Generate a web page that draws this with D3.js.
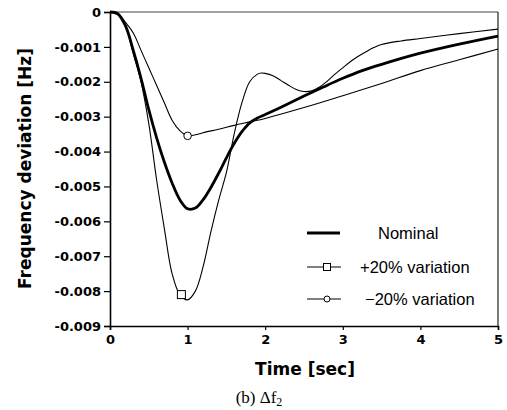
<!DOCTYPE html>
<html><head><meta charset="utf-8">
<script src="https://cdn.jsdelivr.net/npm/d3@7"></script>
<style>
html,body{margin:0;padding:0;background:#fff;}
svg{display:block;}
</style></head>
<body>
<svg id="chart" width="507" height="410"></svg>
<script>
// ---- data ----
const timeNominal = [0,0.1,0.2,0.3,0.4,0.5,0.6,0.7,0.8,0.9,1.0,1.1,1.2,1.3,1.4,1.5,1.6,1.7,1.8,1.9,2.0,2.25,2.5,2.75,3.0,3.25,3.5,4.0,4.5,5.0];
const nominal = [0,-0.00005,-0.0004,-0.0011,-0.0019,-0.0028,-0.0036,-0.0043,-0.0049,-0.00538,-0.00564,-0.00562,-0.00538,-0.00503,-0.00462,-0.00418,-0.00377,-0.00343,-0.00318,-0.00304,-0.00294,-0.00268,-0.00241,-0.00215,-0.0019,-0.00168,-0.0015,-0.00118,-0.00092,-0.00069];

const timePlus = [0,0.1,0.2,0.3,0.4,0.5,0.6,0.7,0.8,0.9,1.0,1.1,1.2,1.3,1.4,1.5,1.6,1.7,1.8,1.9,1.95,2.0,2.1,2.2,2.3,2.4,2.5,2.6,2.7,2.8,2.9,3.0,3.1,3.2,3.3,3.4,3.5,3.75,4.0,4.5,5.0];
const plus20 = [0,-0.00005,-0.0004,-0.0012,-0.0020,-0.0032,-0.0048,-0.0062,-0.0075,-0.0081,-0.00825,-0.0080,-0.0073,-0.0063,-0.0054,-0.0046,-0.0035,-0.0026,-0.0020,-0.00178,-0.00175,-0.00176,-0.00183,-0.00196,-0.0021,-0.00222,-0.00228,-0.00226,-0.00215,-0.00198,-0.00178,-0.0016,-0.00142,-0.00127,-0.00114,-0.00102,-0.00093,-0.00083,-0.00076,-0.00062,-0.00049];

const timeMinus = [0,0.1,0.2,0.3,0.4,0.5,0.6,0.7,0.8,0.9,1.0,1.1,1.2,1.4,1.6,1.8,2.0,2.5,3.0,3.5,4.0,4.5,5.0];
const minus20 = [0,-0.00005,-0.0003,-0.0006,-0.0011,-0.0016,-0.0021,-0.0026,-0.0031,-0.0034,-0.00355,-0.00352,-0.00346,-0.00336,-0.00325,-0.00315,-0.00305,-0.00274,-0.0024,-0.00205,-0.00168,-0.00137,-0.00106];

const plusMarker = [0.92, -0.0081];
const minusMarker = [1.0, -0.00355];

const xTicks = [0,1,2,3,4,5];
const yTicks = [0,-0.001,-0.002,-0.003,-0.004,-0.005,-0.006,-0.007,-0.008,-0.009];
const yTickLabels = ["0","-0.001","-0.002","-0.003","-0.004","-0.005","-0.006","-0.007","-0.008","-0.009"];
const legendLabels = ["Nominal","+20% variation","\u221220% variation"];

// ---- layout ----
const svg = d3.select("#chart");
const x = d3.scaleLinear().domain([0,5]).range([110,498]);
const y = d3.scaleLinear().domain([-0.009,0]).range([326,12]);

const tickFont = "'DejaVu Sans', sans-serif";

// frame top/right
svg.append("line").attr("x1",x(0)).attr("x2",x(5)).attr("y1",y(0)).attr("y2",y(0))
  .attr("stroke","#444").attr("stroke-width",1.2);
svg.append("line").attr("x1",x(5)).attr("x2",x(5)).attr("y1",y(0)).attr("y2",y(-0.009))
  .attr("stroke","#222").attr("stroke-width",1.2);

// axes
const xAxis = d3.axisBottom(x).tickValues(xTicks).tickFormat(d3.format("d")).tickSize(4).tickPadding(5);
const yAxis = d3.axisLeft(y).tickValues(yTicks).tickFormat((d,i)=>yTickLabels[i]).tickSize(6).tickPadding(3);

const gx = svg.append("g").attr("transform",`translate(0,${y(-0.009)})`).call(xAxis);
const gy = svg.append("g").attr("transform",`translate(${x(0)},0)`).call(yAxis);
[gx,gy].forEach(g=>{
  g.select(".domain").attr("stroke","#000").attr("stroke-width",1.6);
  g.selectAll(".tick line").attr("stroke","#000").attr("stroke-width",1.2);
  g.selectAll(".tick text").attr("font-family",tickFont).attr("font-weight","bold")
   .attr("font-size","13px").attr("fill","#000");
});

// curves
const line = d3.line().x(d=>x(d[0])).y(d=>y(d[1])).curve(d3.curveCatmullRom.alpha(0.5));
const zip = (t,v)=>t.map((d,i)=>[d,v[i]]);

svg.append("path").datum(zip(timeMinus,minus20)).attr("d",line)
  .attr("fill","none").attr("stroke","#000").attr("stroke-width",1.1);
svg.append("path").datum(zip(timePlus,plus20)).attr("d",line)
  .attr("fill","none").attr("stroke","#000").attr("stroke-width",1.1);
svg.append("path").datum(zip(timeNominal,nominal)).attr("d",line)
  .attr("fill","none").attr("stroke","#000").attr("stroke-width",2.8);

// markers
svg.append("rect").attr("x",x(plusMarker[0])-4).attr("y",y(plusMarker[1])-4)
  .attr("width",8).attr("height",8).attr("fill","#fff").attr("stroke","#000").attr("stroke-width",1);
svg.append("circle").attr("cx",x(minusMarker[0])).attr("cy",y(minusMarker[1])).attr("r",3.8)
  .attr("fill","#fff").attr("stroke","#000").attr("stroke-width",1);

// legend
const legY = [233,267,299];
const lg = svg.append("g");
lg.append("line").attr("x1",307).attr("x2",340).attr("y1",legY[0]).attr("y2",legY[0])
  .attr("stroke","#000").attr("stroke-width",2.8);
lg.append("line").attr("x1",307).attr("x2",341).attr("y1",legY[1]).attr("y2",legY[1])
  .attr("stroke","#000").attr("stroke-width",1);
lg.append("rect").attr("x",327-3.5).attr("y",legY[1]-3.5).attr("width",7).attr("height",7)
  .attr("fill","#fff").attr("stroke","#000").attr("stroke-width",1);
lg.append("line").attr("x1",307).attr("x2",341).attr("y1",legY[2]).attr("y2",legY[2])
  .attr("stroke","#000").attr("stroke-width",1);
lg.append("circle").attr("cx",327).attr("cy",legY[2]).attr("r",3)
  .attr("fill","#fff").attr("stroke","#000").attr("stroke-width",1);
const legX = [378,360,365];
legendLabels.forEach((t,i)=>{
  lg.append("text").attr("x",legX[i]).attr("y",legY[i]).attr("dy","0.36em")
    .attr("font-family","'Liberation Sans', Arial, sans-serif").attr("font-size","16.5px")
    .attr("fill","#000").text(t);
});

// axis titles
svg.append("text").attr("x",305).attr("y",375).attr("text-anchor","middle")
  .attr("font-family",tickFont).attr("font-weight","bold").attr("font-size","17px")
  .text("Time [sec]");
svg.append("text").attr("transform","translate(31,168.5) rotate(-90)").attr("text-anchor","middle")
  .attr("font-family",tickFont).attr("font-weight","bold").attr("font-size","17px")
  .text("Frequency deviation [Hz]");

// caption
const cap = svg.append("text").attr("x",259).attr("y",403).attr("text-anchor","middle")
  .attr("font-family","'Liberation Serif', 'Times New Roman', serif").attr("font-size","17px");
cap.append("tspan").text("(b) \u0394f");
cap.append("tspan").attr("font-size","12px").attr("dy","3").text("2");
</script>
</body></html>
